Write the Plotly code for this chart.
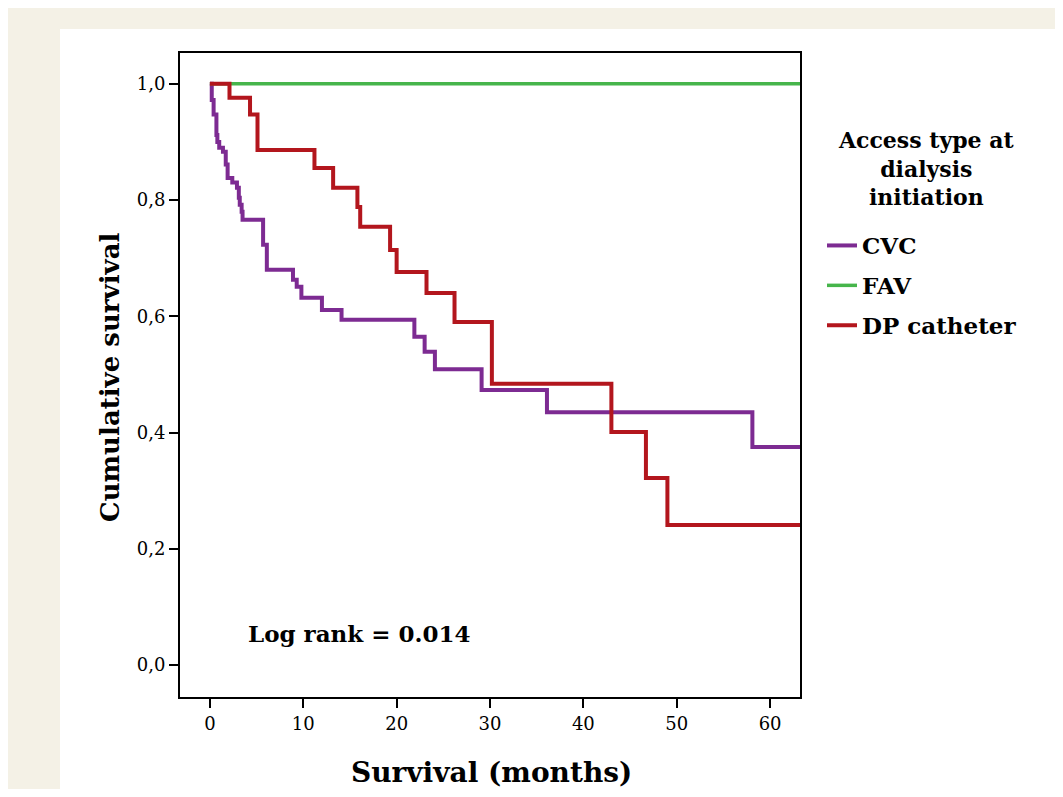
import plotly.graph_objects as go

# ---- data ----
x_end = 63.2  # last follow-up shown (right edge of the frame)

cvc_times = [0.2, 0.4, 0.7, 0.8, 1.0, 1.4, 1.7, 1.9, 2.4, 2.9, 3.1, 3.2, 3.4, 3.5,
             5.7, 6.1, 8.9, 9.3, 9.8, 12.0, 14.1, 21.9, 23.0, 24.1, 29.1, 36.1, 58.1]
cvc_surv = [0.972, 0.947, 0.912, 0.900, 0.890, 0.883, 0.861, 0.838, 0.830, 0.821, 0.804,
            0.792, 0.780, 0.766, 0.723, 0.680, 0.663, 0.651, 0.632, 0.611, 0.594, 0.565,
            0.539, 0.509, 0.473, 0.435, 0.375]

fav_times = []
fav_surv = []

dp_times = [2.1, 4.3, 5.1, 11.2, 13.2, 15.8, 16.1, 19.3, 20.0, 23.2, 26.2, 30.2, 43.0, 46.7, 49.0]
dp_surv = [0.976, 0.947, 0.886, 0.855, 0.821, 0.788, 0.754, 0.714, 0.676, 0.640, 0.590,
           0.484, 0.401, 0.322, 0.241]

series_names = ["CVC", "FAV", "DP catheter"]
series_colors = ["#7d2b92", "#46b54b", "#b3161d"]

x_tickvals = [0, 10, 20, 30, 40, 50, 60]
y_tickvals = [0.0, 0.2, 0.4, 0.6, 0.8, 1.0]
y_ticktext = ["0,0", "0,2", "0,4", "0,6", "0,8", "1,0"]

x_title = "Survival (months)"
y_title = "Cumulative survival"
logrank_text = "Log rank = 0.014"
legend_title = "Access type at<br>dialysis<br>initiation"

FONT = "DejaVu Serif"


def km_xy(times, surv):
    xs = [0.0] + list(times) + [x_end]
    ys = [1.0] + list(surv) + [surv[-1] if surv else 1.0]
    return xs, ys


fig = go.Figure()
for name, color, (t, s), w in zip(
        series_names, series_colors,
        [(cvc_times, cvc_surv), (fav_times, fav_surv), (dp_times, dp_surv)],
        [4, 3.5, 4]):
    xs, ys = km_xy(t, s)
    fig.add_trace(go.Scatter(
        x=xs, y=ys, mode="lines", name="<b>" + name + "</b>", legendgroup=name,
        line=dict(color=color, width=w, shape="hv"),
    ))

# page offset of 8px (browser body margin) is compensated here
OFF = 8
W, H = 1063 - 2 * OFF, 797 - 2 * OFF
L, T = 180 - OFF, 53 - OFF
PW, PH = 620, 644
R = W - L - PW
B = H - T - PH


def px_to_paper(px, py):
    # px, py are page pixel coordinates of the target picture
    return (px - OFF - L) / PW, (T + PH - (py - OFF)) / PH


# white panel on beige page
wx0, wy0 = px_to_paper(60, 820)
wx1, wy1 = px_to_paper(1080, 29)
fig.add_shape(type="rect", xref="paper", yref="paper", x0=wx0, y0=wy0, x1=wx1, y1=wy1,
              fillcolor="white", line=dict(width=0), layer="below")

# log-rank annotation
fig.add_annotation(x=3.9, y=0.055, xref="x", yref="y", text="<b>" + logrank_text + "</b>",
                   showarrow=False, xanchor="left", yanchor="middle",
                   font=dict(family=FONT, size=23, color="black"))

# legend title
lx, ly = px_to_paper(926, 168)
fig.add_annotation(x=lx, y=ly, xref="paper", yref="paper", text="<b>" + legend_title + "</b>",
                   showarrow=False, xanchor="center", yanchor="middle", align="center",
                   font=dict(family=FONT, size=22, color="black"))

# axis titles
xtx, xty = px_to_paper(491, 773)
fig.add_annotation(x=xtx, y=xty, xref="paper", yref="paper", text="<b>" + x_title + "</b>",
                   showarrow=False, xanchor="center", yanchor="middle",
                   font=dict(family=FONT, size=28, color="black"))
ytx, yty = px_to_paper(110, 377)
fig.add_annotation(x=ytx, y=yty, xref="paper", yref="paper", text="<b>" + y_title + "</b>",
                   showarrow=False, xanchor="center", yanchor="middle", textangle=-90,
                   font=dict(family=FONT, size=26, color="black"))

legx, legy = px_to_paper(822, 224)

fig.update_layout(
    width=W, height=H,
    margin=dict(l=L, r=R, t=T, b=B, autoexpand=False),
    paper_bgcolor="#f4f1e6",
    plot_bgcolor="white",
    font=dict(family=FONT, color="black"),
    showlegend=True,
    legend=dict(x=legx, y=legy, xanchor="left", yanchor="top",
                bgcolor="rgba(0,0,0,0)", tracegroupgap=7, itemwidth=30,
                font=dict(family=FONT, size=23, color="black")),
    xaxis=dict(range=[-3.2, 63.2], tickvals=x_tickvals, ticks="outside", ticklen=9,
               tickwidth=2, tickcolor="black", showline=True, linecolor="black",
               linewidth=2, mirror=True, showgrid=False, zeroline=False,
               automargin=False,
               tickfont=dict(family=FONT, size=18, color="black")),
    yaxis=dict(range=[-0.055, 1.053], tickvals=y_tickvals, ticktext=y_ticktext,
               ticks="outside", ticklen=9, tickwidth=2, tickcolor="black",
               showline=True, linecolor="black", linewidth=2, mirror=True,
               showgrid=False, zeroline=False, automargin=False,
               tickfont=dict(family=FONT, size=18, color="black")),
)

fig.write_html("out.html")
